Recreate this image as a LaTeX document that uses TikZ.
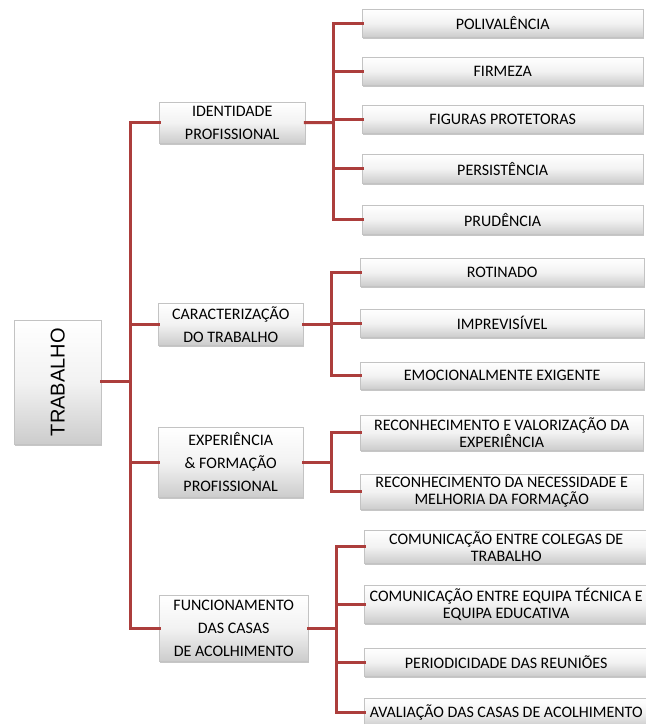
\documentclass[tikz,border=0pt]{standalone}
\usepackage{fontspec}
\setmainfont{Carlito}
\newfontfamily\rootfont{Liberation Sans}
\usetikzlibrary{shadows}
\definecolor{linered}{RGB}{172,62,60}
\definecolor{boxedge}{RGB}{195,195,195}
\tikzset{
  gbox/.style={draw=boxedge, line width=0.4pt, top color=white, bottom color=black!20,
    middle color=white!95!black, drop shadow={shadow xshift=1.2pt, shadow yshift=-2.2pt, opacity=0.45},
    inner sep=0pt, align=center, anchor=north west},
  lone/.style={gbox, font=\fontsize{16}{23}\selectfont},
  ltwo/.style={gbox, font=\fontsize{16}{17}\selectfont},
  conn/.style={draw=linered, line width=3pt, line cap=rect},
}
\begin{document}
\begin{tikzpicture}[x=1pt,y=-1pt]
\useasboundingbox (0,0) rectangle (646,724);
% root
\node[gbox, minimum width=87pt, minimum height=124pt, font=\rootfont\fontsize{20}{24}\selectfont] (root) at (14,320) {\rotatebox{90}{TRABALHO}};
% level 1
\node[lone, minimum width=146pt, minimum height=41pt] (id) at (159,102) {IDENTIDADE\\PROFISSIONAL};
\node[lone, minimum width=145pt, minimum height=42pt] (car) at (158,303) {CARACTERIZAÇÃO\\DO TRABALHO};
\node[lone, minimum width=145pt, minimum height=70pt] (exp) at (158,427) {EXPERIÊNCIA\\\&\ FORMAÇÃO\\PROFISSIONAL};
\node[lone, minimum width=149pt, minimum height=66pt] (fun) at (159,595) {FUNCIONAMENTO\\DAS CASAS\\DE ACOLHIMENTO};
% level 2: identidade
\node[ltwo, minimum width=281pt, minimum height=28pt] (a1) at (362,9) {POLIVALÊNCIA};
\node[ltwo, minimum width=281pt, minimum height=28pt] (a2) at (362,57) {FIRMEZA};
\node[ltwo, minimum width=281pt, minimum height=28pt] (a3) at (362,105) {FIGURAS PROTETORAS};
\node[ltwo, minimum width=281pt, minimum height=29pt] (a4) at (362,154) {PERSISTÊNCIA};
\node[ltwo, minimum width=281pt, minimum height=29pt] (a5) at (362,205) {PRUDÊNCIA};
% caracterizacao
\node[ltwo, minimum width=284pt, minimum height=28pt] (b1) at (360,258) {ROTINADO};
\node[ltwo, minimum width=284pt, minimum height=28pt] (b2) at (360,309) {IMPREVISÍVEL};
\node[ltwo, minimum width=284pt, minimum height=27pt] (b3) at (360,362) {EMOCIONALMENTE EXIGENTE};
% experiencia
\node[ltwo, minimum width=283pt, minimum height=35pt] (c1) at (360,415) {RECONHECIMENTO E VALORIZAÇÃO DA\\EXPERIÊNCIA};
\node[ltwo, minimum width=283pt, minimum height=35pt] (c2) at (360,474) {RECONHECIMENTO DA NECESSIDADE E\\MELHORIA DA FORMAÇÃO};
% funcionamento
\node[ltwo, minimum width=284pt, minimum height=33pt] (d1) at (364,530) {COMUNICAÇÃO ENTRE COLEGAS DE\\TRABALHO};
\node[ltwo, minimum width=284pt, minimum height=38pt] (d2) at (364,585) {COMUNICAÇÃO ENTRE EQUIPA TÉCNICA E\\EQUIPA EDUCATIVA};
\node[ltwo, minimum width=284pt, minimum height=28pt] (d3) at (364,648) {PERIODICIDADE DAS REUNIÕES};
\node[ltwo, minimum width=284pt, minimum height=28pt] (d4) at (364,698) {AVALIAÇÃO DAS CASAS DE ACOLHIMENTO};
% connectors root
\coordinate (t0) at (130,381);
\draw[conn] (root.east |- t0) -- (t0);
\draw[conn] (id.west) -| (t0) |- (fun.west);
\draw[conn] (car.west) -- (car.west -| t0);
\draw[conn] (exp.west) -- (exp.west -| t0);
% identidade
\coordinate (ta) at (333,122.5);
\draw[conn] (id.east) -- (ta);
\draw[conn] (a1.west) -| (ta) |- (a5.west);
\foreach \n in {a2,a3,a4} \draw[conn] (\n.west) -- (\n.west -| ta);
% caracterizacao
\coordinate (tb) at (331,324);
\draw[conn] (car.east) -- (car.east -| tb);
\draw[conn] (b1.west) -| (tb) |- (b3.west);
\draw[conn] (b2.west) -- (b2.west -| tb);
% experiencia
\coordinate (tc) at (331,461);
\draw[conn] (exp.east) -- (exp.east -| tc);
\draw[conn] (c1.west) -| (tc) |- (c2.west);
% funcionamento
\coordinate (td) at (336,628);
\draw[conn] (fun.east) -- (fun.east -| td);
\draw[conn] (d1.west) -| (td) |- (d4.west);
\foreach \n in {d2,d3} \draw[conn] (\n.west) -- (\n.west -| td);
\end{tikzpicture}
\end{document}
